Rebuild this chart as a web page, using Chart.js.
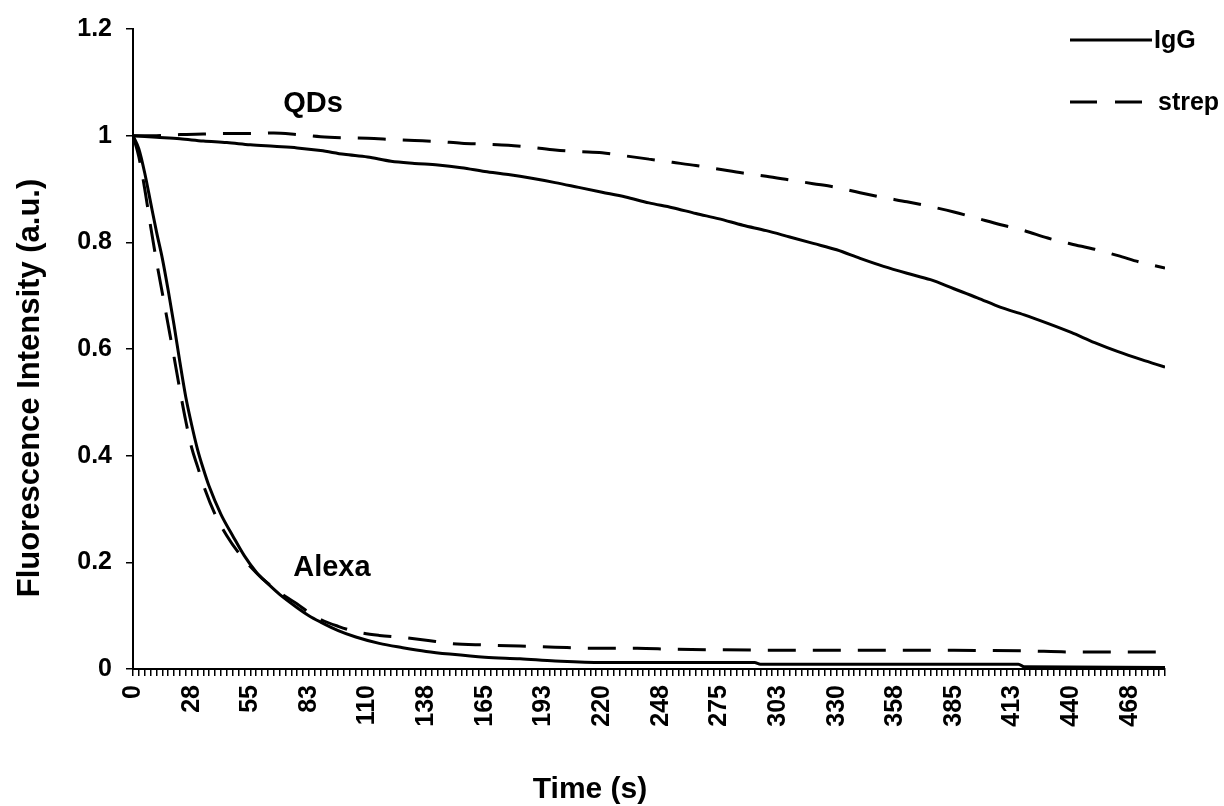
<!DOCTYPE html>
<html>
<head>
<meta charset="utf-8">
<script src="https://cdn.jsdelivr.net/npm/chart.js@4/dist/chart.umd.min.js"></script>
<style>
  body { margin: 0; background: #fff; }
</style>
</head>
<body>
<canvas id="photo-chart" width="1224" height="806"></canvas>
<script>
// tick labels shown under every 10th minor tick (2.75 s apart)
var timeLabels = [0, 28, 55, 83, 110, 138, 165, 193, 220, 248, 275, 303, 330, 358, 385, 413, 440, 468];

// QDs, IgG (solid)
var qdIgGTime = [0, 11, 22, 33, 44, 55, 66, 77, 88, 99, 110, 121, 132, 143, 154, 165, 176, 187, 198, 209, 220, 231, 242, 253, 264, 275, 286, 297, 308, 319, 330, 341, 352, 363, 374, 385, 396, 407, 418, 429, 440, 451, 462, 473, 484];
var qdIgG = [1.0, 0.997, 0.994, 0.99, 0.987, 0.983, 0.98, 0.977, 0.972, 0.965, 0.96, 0.952, 0.948, 0.945, 0.94, 0.933, 0.927, 0.92, 0.912, 0.903, 0.894, 0.885, 0.874, 0.865, 0.854, 0.844, 0.832, 0.822, 0.81, 0.798, 0.786, 0.77, 0.755, 0.742, 0.73, 0.713, 0.696, 0.678, 0.664, 0.648, 0.631, 0.612, 0.595, 0.58, 0.566];

// QDs, strep (dashed)
var qdStrepTime = [0, 11, 22, 33, 44, 55, 66, 77, 88, 99, 110, 121, 132, 143, 154, 165, 176, 187, 198, 209, 220, 231, 242, 253, 264, 275, 286, 297, 308, 319, 330, 341, 352, 363, 374, 385, 396, 407, 418, 429, 440, 451, 462, 473, 484];
var qdStrep = [1.0, 1.0, 1.002, 1.003, 1.004, 1.004, 1.005, 1.002, 0.998, 0.996, 0.995, 0.993, 0.991, 0.989, 0.986, 0.984, 0.982, 0.978, 0.973, 0.97, 0.968, 0.962, 0.956, 0.95, 0.944, 0.937, 0.93, 0.924, 0.917, 0.91, 0.903, 0.893, 0.884, 0.876, 0.867, 0.857, 0.845, 0.833, 0.822, 0.808, 0.797, 0.787, 0.775, 0.762, 0.752];

// Alexa, IgG (solid)
var alexaIgGTime = [0, 2.75, 5.5, 8.25, 11, 13.75, 16.5, 19.25, 22, 24.75, 27.5, 30.25, 33, 35.75, 41.25, 46.75, 52.25, 57.75, 63.25, 68.75, 77, 82.5, 88, 96.25, 104.5, 115.5, 126.5, 137.5, 148.5, 165, 181.5, 198, 220, 247.5, 291.5, 294.25, 415.25, 418, 484];
var alexaIgG = [1.0, 0.975, 0.93, 0.875, 0.82, 0.77, 0.71, 0.645, 0.575, 0.51, 0.458, 0.412, 0.375, 0.342, 0.29, 0.25, 0.212, 0.182, 0.16, 0.14, 0.115, 0.1, 0.088, 0.072, 0.06, 0.048, 0.04, 0.033, 0.028, 0.022, 0.019, 0.015, 0.012, 0.012, 0.012, 0.009, 0.009, 0.004, 0.003];

// Alexa, strep (dashed)
var alexaStrepTime = [0, 2.75, 5.5, 8.25, 11, 13.75, 16.5, 19.25, 22, 24.75, 27.5, 30.25, 33, 38.5, 44, 49.5, 55, 60.5, 66, 71.5, 77, 82.5, 88, 96.25, 104.5, 115.5, 126.5, 137.5, 148.5, 165, 181.5, 198, 214.5, 236.5, 253, 275, 330, 385, 418, 440, 484];
var alexaStrep = [1.0, 0.96, 0.9, 0.83, 0.765, 0.705, 0.645, 0.585, 0.523, 0.465, 0.415, 0.38, 0.345, 0.29, 0.25, 0.218, 0.192, 0.17, 0.152, 0.136, 0.122, 0.106, 0.093, 0.08, 0.07, 0.063, 0.059, 0.054, 0.048, 0.045, 0.043, 0.041, 0.039, 0.039, 0.037, 0.036, 0.035, 0.035, 0.034, 0.032, 0.032];

function toPoints(times, values) {
    var pts = [];
    for (var i = 0; i < times.length; i++) {
        pts.push({x: times[i], y: values[i]});
    }
    return pts;
}

var solid = [];
var dashed = [28, 17];
var fontFamily = "Arial, 'Liberation Sans', sans-serif";

function lineSet(label, pts, dash) {
    return {
        label: label,
        data: pts,
        borderColor: '#000',
        borderWidth: 3,
        borderDash: dash,
        pointRadius: 0,
        fill: false,
        cubicInterpolationMode: 'monotone'
    };
}

const data = {
    datasets: [
        lineSet('QDs IgG', toPoints(qdIgGTime, qdIgG), solid),
        lineSet('QDs strep', toPoints(qdStrepTime, qdStrep), dashed),
        lineSet('Alexa IgG', toPoints(alexaIgGTime, alexaIgG), solid),
        lineSet('Alexa strep', toPoints(alexaStrepTime, alexaStrep), dashed)
    ]
};

// texts on the plot, the legend and the axis titles
const labelsPlugin = {
    id: 'extraText',
    afterDraw: function (chart) {
        var ctx = chart.ctx;
        var xs = chart.scales.x;
        var ys = chart.scales.y;
        ctx.save();
        ctx.fillStyle = '#000';
        ctx.textAlign = 'center';
        ctx.textBaseline = 'middle';
        ctx.font = 'bold 29px ' + fontFamily;
        ctx.fillText('QDs', xs.getPixelForValue(84.4), ys.getPixelForValue(1.059));
        ctx.fillText('Alexa', xs.getPixelForValue(93.3), ys.getPixelForValue(0.189));

        ctx.font = 'bold 30px ' + fontFamily;
        ctx.fillText('Time (s)', 590, 790);

        ctx.save();
        ctx.translate(30, 388);
        ctx.rotate(-Math.PI / 2);
        ctx.font = 'bold 31px ' + fontFamily;
        ctx.fillText('Fluorescence Intensity (a.u.)', 0, 0);
        ctx.restore();

        // legend
        ctx.strokeStyle = '#000';
        ctx.lineWidth = 3;
        ctx.setLineDash([]);
        ctx.beginPath();
        ctx.moveTo(1070, 40);
        ctx.lineTo(1152, 40);
        ctx.stroke();
        ctx.setLineDash([27, 18]);
        ctx.beginPath();
        ctx.moveTo(1070, 102);
        ctx.lineTo(1143, 102);
        ctx.stroke();
        ctx.setLineDash([]);
        ctx.textAlign = 'left';
        ctx.font = 'bold 25px ' + fontFamily;
        ctx.fillText('IgG', 1154, 41);
        ctx.fillText('strep', 1158, 103);
        ctx.restore();
    }
};

const config = {
    type: 'line',
    data: data,
    options: {
        responsive: false,
        animation: false,
        layout: {
            padding: {top: 22, right: 59, left: 0, bottom: 0}
        },
        plugins: {
            legend: {display: false},
            tooltip: {enabled: false}
        },
        scales: {
            x: {
                type: 'linear',
                min: 0,
                max: 484,
                afterFit: function (scale) { scale.height = 137; },
                border: {display: true, color: '#000', width: 2},
                grid: {
                    drawOnChartArea: false,
                    drawTicks: true,
                    tickLength: 7,
                    color: '#000',
                    lineWidth: 1.5
                },
                ticks: {
                    stepSize: 2.75,
                    autoSkip: false,
                    minRotation: 90,
                    maxRotation: 90,
                    padding: 9,
                    color: '#000',
                    font: {family: fontFamily, size: 25, weight: 'bold'},
                    callback: function (value, index) {
                        return index % 10 === 0 ? String(timeLabels[index / 10]) : '';
                    }
                }
            },
            y: {
                min: 0,
                max: 1.2,
                afterFit: function (scale) { scale.width = 133; },
                border: {display: true, color: '#000', width: 2},
                grid: {
                    drawOnChartArea: false,
                    drawTicks: true,
                    tickLength: 7,
                    color: '#000',
                    lineWidth: 1.5
                },
                ticks: {
                    stepSize: 0.2,
                    padding: 14,
                    color: '#000',
                    font: {family: fontFamily, size: 25, weight: 'bold'},
                    callback: function (value) {
                        return String(Math.round(value * 10) / 10);
                    }
                }
            }
        }
    },
    plugins: [labelsPlugin]
};

const myChart = new Chart(
    document.getElementById('photo-chart'),
    config
);
</script>
</body>
</html>
